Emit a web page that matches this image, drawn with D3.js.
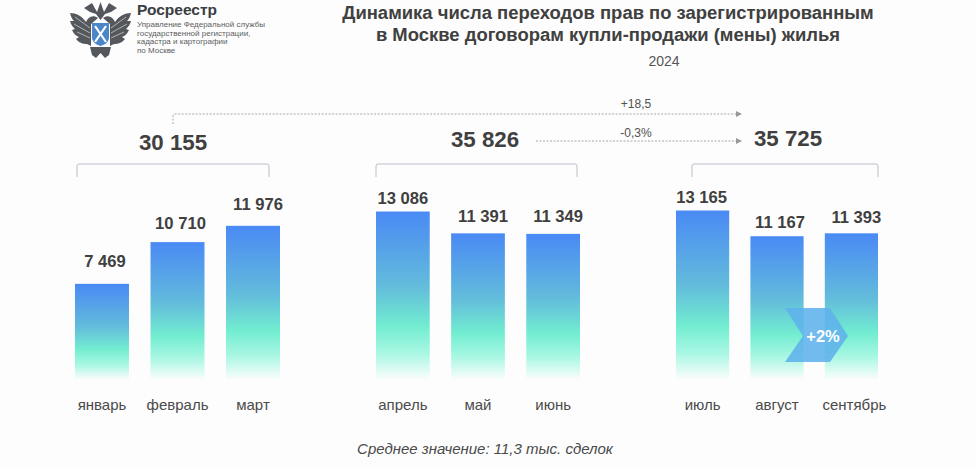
<!DOCTYPE html>
<html><head><meta charset="utf-8">
<style>html,body{margin:0;padding:0;background:#fdfdfd}svg{display:block}text{font-family:"Liberation Sans",Arial,sans-serif}</style>
<script src="https://cdn.jsdelivr.net/npm/d3@7"></script>
</head><body><svg id="c" width="976" height="469"></svg>
<script>
const months = [["январь","февраль","март"],["апрель","май","июнь"],["июль","август","сентябрь"]];
const values = [[7469,10710,11976],[13086,11391,11349],[13165,11167,11393]];
const valueLabels = [["7 469","10 710","11 976"],["13 086","11 391","11 349"],["13 165","11 167","11 393"]];
const totals = ["30 155","35 826","35 725"];
const titleLines = ["Динамика числа переходов прав по зарегистрированным","в Москве договорам купли-продажи (мены) жилья"];
const yearLabel = "2024";
const footnote = "Среднее значение: 11,3 тыс. сделок";
const deltaA = "+18,5"; const deltaB = "-0,3%"; const badge = "+2%";
const logoName = "Росреестр";
const logoLines = ["Управление Федеральной службы","государственной регистрации,","кадастра и картографии","по Москве"];

// hand-placed label offsets of the original slide (dx, gap above bar)
const labelNudgeX = [[3,3,5],[0,5,5],[-1,3,5]];
const labelGap = [[17,13,16],[8,11,12],[8,8,10]];

const svg = d3.select("#c");
const defs = svg.append("defs");
const grad = defs.append("linearGradient").attr("id","barG")
  .attr("x1",0).attr("x2",0).attr("y1",0).attr("y2",1);
[[0,"#4a8af5"],[0.22,"#56a2e8"],[0.45,"#63bddb"],[0.68,"#72edd0"],[0.84,"#a8f7e3"],[1,"#fdfdfd"]]
  .forEach(s=>grad.append("stop").attr("offset",s[0]).attr("stop-color",s[1]));
defs.append("marker").attr("id","arr").attr("markerWidth",6).attr("markerHeight",6).attr("refX",5).attr("refY",3)
  .attr("orient","auto").attr("markerUnits","userSpaceOnUse").append("path").attr("d","M0,0L6,3L0,6Z").attr("fill","#999");

const y = d3.scaleLinear().domain([0,13165]).range([380,210.5]);
const groups = [
  {range:[75,280], total:[173,150], brace:[77,269]},
  {range:[376,580], total:[485,147], brace:[376,577]},
  {range:[676,878], total:[788,146], brace:[692,878]}
];
const dark = "#404040";

groups.forEach((g,i)=>{
  const x = d3.scaleBand().domain(months[i]).range(g.range).paddingInner(0.285).paddingOuter(0);
  const gg = svg.append("g");
  gg.selectAll("rect").data(values[i]).join("rect")
    .attr("x",(d,j)=>x(months[i][j])).attr("width",x.bandwidth())
    .attr("y",d=>y(d)).attr("height",d=>y(0)-y(d)).attr("fill","url(#barG)");
  gg.selectAll("text.v").data(valueLabels[i]).join("text").attr("class","v")
    .attr("x",(d,j)=>x(months[i][j])+x.bandwidth()/2+labelNudgeX[i][j])
    .attr("y",(d,j)=>y(values[i][j])-labelGap[i][j]).attr("text-anchor","middle")
    .attr("font-size",16.6).attr("font-weight",700).attr("fill",dark).text(d=>d);
  gg.selectAll("text.m").data(months[i]).join("text").attr("class","m")
    .attr("x",d=>x(d)+x.bandwidth()/2+(d==="сентябрь"?3:0)).attr("y",410).attr("text-anchor","middle")
    .attr("font-size",15).attr("fill","#4a4a4a").text(d=>d);
  svg.append("text").attr("x",g.total[0]).attr("y",g.total[1]).attr("text-anchor","middle")
    .attr("font-size",22.3).attr("font-weight",700).attr("fill",dark).text(totals[i]);
  const [a,b]=g.brace;
  svg.append("path").attr("d",`M${a},177V166Q${a},164 ${a+2},164H${b-2}Q${b},164 ${b},166V177`)
    .attr("fill","none").attr("stroke","#b9bec6").attr("stroke-width",1);
});

// connectors
svg.append("path").attr("d","M173,124V116Q173,114 175,114H741").attr("fill","none").attr("stroke","#a8a8a8")
  .attr("stroke-dasharray","2 1.5").attr("marker-end","url(#arr)");
svg.append("path").attr("d","M536,141H741").attr("fill","none").attr("stroke","#a8a8a8")
  .attr("stroke-dasharray","2 1.5").attr("marker-end","url(#arr)");
svg.append("text").attr("x",636).attr("y",108).attr("text-anchor","middle").attr("font-size",12).attr("fill","#505050").text(deltaA);
svg.append("text").attr("x",636).attr("y",137).attr("text-anchor","middle").attr("font-size",12).attr("fill","#505050").text(deltaB);

// chevron badge
const chev = d3.path();
chev.moveTo(785,308);chev.lineTo(830,308);chev.lineTo(848,336);chev.lineTo(830,362);chev.lineTo(785,362);chev.lineTo(803,336);chev.closePath();
svg.append("path").attr("d",chev.toString()).attr("fill","#5fb2ec").attr("fill-opacity",0.88);
svg.append("text").attr("x",823).attr("y",342).attr("text-anchor","middle").attr("font-size",16.5).attr("font-weight",700).attr("fill","#fff").text(badge);

// title
titleLines.forEach((t,i)=>svg.append("text").attr("x",608).attr("y",19+i*22).attr("text-anchor","middle")
  .attr("font-size",18.45).attr("font-weight",700).attr("fill",dark).text(t));
svg.append("text").attr("x",664).attr("y",66).attr("text-anchor","middle").attr("font-size",14).attr("fill","#555").text(yearLabel);
svg.append("text").attr("x",485).attr("y",454).attr("text-anchor","middle").attr("font-size",15).attr("font-style","italic").attr("fill","#4a4a4a").text(footnote);

// logo
const logo = svg.append("g");
const wing = "M98,18C92,14 88,18 86,22C82,16 76,13 70,13C71,17 72,19 74,21L70,21C71,25 73,27 75,29L72,30C74,34 76,36 79,37L76,39C79,43 83,44 87,44L91,46L91,24Z";
const feathers = "M75,17L90,28M74,24L90,33M77,32L90,38";
[ "", "translate(201,0) scale(-1,1)" ].forEach(t=>{
  logo.append("path").attr("d",wing).attr("fill","#54585d").attr("transform",t);
  logo.append("path").attr("d",feathers).attr("stroke","#d8d8d8").attr("stroke-width",0.7).attr("fill","none").attr("transform",t);
});
logo.append("path").attr("d","M84,8L92,3L97,12L100.5,2L104,12L109,3L117,8L111,12L105,14L100.5,20L96,14L90,12Z").attr("fill","#54585d");
logo.append("path").attr("d","M90,47L111,47L109,55L105,58L100.5,53L96,58L92,55Z").attr("fill","#54585d");
logo.append("path").attr("d","M92,23H109V38Q109,43 100.5,46Q92,43 92,38Z").attr("fill","#4a86c8");
logo.append("path").attr("d","M95,26L106,42M106,26L95,42").attr("stroke","#fff").attr("stroke-width",2.2);
svg.append("text").attr("x",137).attr("y",15).attr("font-size",15.5).attr("font-weight",700).attr("fill","#3a3d42").text(logoName);
logoLines.forEach((t,i)=>svg.append("text").attr("x",137).attr("y",27+i*8.6).attr("font-size",8).attr("fill","#5a5d62").text(t));
</script></body></html>
